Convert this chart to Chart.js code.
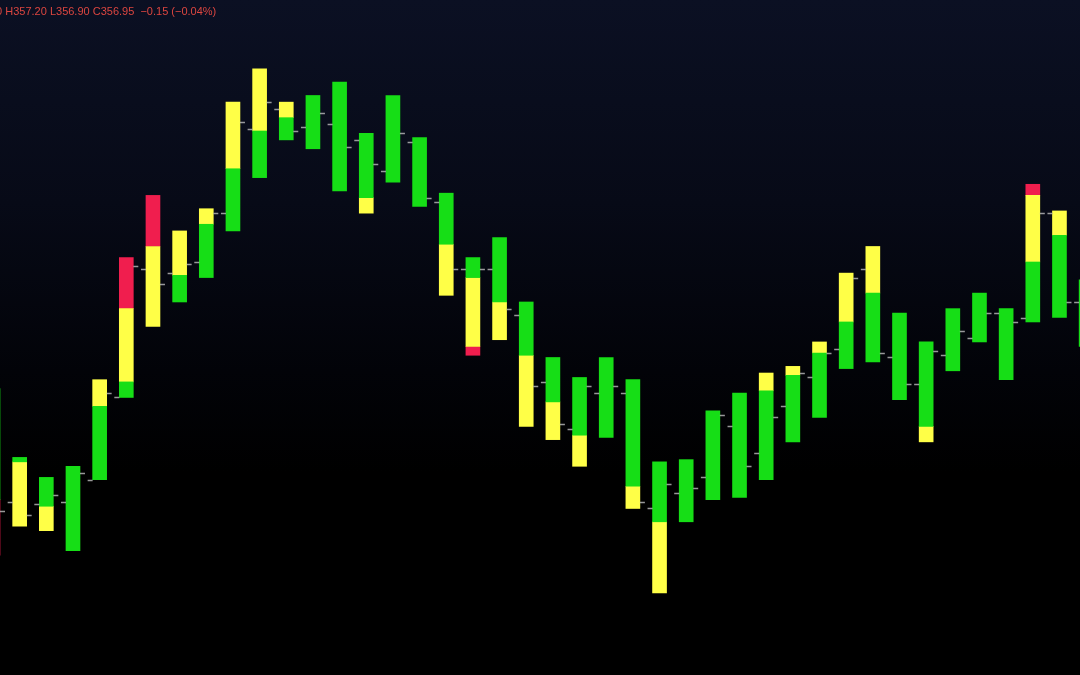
<!DOCTYPE html>
<html>
<head>
<meta charset="utf-8">
<script src="https://cdn.jsdelivr.net/npm/chart.js@4.4.0/dist/chart.umd.min.js"></script>
<style>
	html, body { margin: 0; padding: 0; background: #000; }
	#wrap {
		position: relative;
		width: 1080px;
		height: 675px;
		overflow: hidden;
		background: linear-gradient(to bottom, #0b1023 0%, #070a17 30%, #020308 55%, #000 70%);
	}
	#legend {
		position: absolute;
		top: 5px;
		left: -40px;
		font-family: "Liberation Sans", Arial, sans-serif;
		font-size: 11px;
		color: #dc4640;
		white-space: pre;
	}
</style>
</head>
<body>
<div id="wrap">
	<canvas id="myChart" width="1080" height="675"></canvas>
	<div id="legend"></div>
</div>
<script>
// 봉 시가 / 종가
var opens = [356.50, 356.20, 356.19, 356.20, 356.30, 356.67, 357.25, 357.23, 357.28, 357.50,
	357.88, 357.97, 357.89, 357.90, 357.83, 357.69, 357.82, 357.55, 357.25, 357.25,
	357.04, 356.74, 356.53, 356.69, 356.69, 356.17, 356.24, 356.31, 356.54, 356.42,
	356.63, 356.76, 356.89, 357.25, 356.85, 356.73, 356.86, 356.94, 357.05, 357.03,
	357.50, 357.10];
var closes = [356.16, 356.14, 356.23, 356.33, 356.69, 357.26, 357.18, 357.27, 357.50, 357.91,
	358.00, 357.87, 357.95, 357.80, 357.72, 357.86, 357.57, 357.25, 357.25, 357.07,
	356.72, 356.55, 356.72, 356.72, 356.20, 356.28, 356.26, 356.59, 356.36, 356.58,
	356.78, 356.87, 357.21, 356.87, 356.73, 356.88, 356.97, 357.05, 357.01, 357.50,
	357.10, 356.95];

// 색 구간 [아래, 위]
var redZones = [[355.96, 356.21], null, null, null, null, [357.07, 357.30], [357.35, 357.58], null, null, null,
	null, null, null, null, null, null, null, null, [356.86, 356.90], null,
	null, null, null, null, null, null, null, null, null, null,
	null, null, null, null, null, null, null, null, null, [357.58, 357.63],
	null, null];
var yellowZones = [null, [356.09, 356.38], [356.07, 356.18], null, [356.63, 356.75], [356.74, 357.07], [356.99, 357.35], [357.22, 357.42], [357.45, 357.52], [357.70, 358.00],
	[357.87, 358.15], [357.93, 358.00], null, null, [357.50, 357.57], null, null, [357.13, 357.36], [356.90, 357.21], [356.93, 357.10],
	[356.54, 356.86], [356.48, 356.65], [356.36, 356.50], null, [356.17, 356.27], [355.79, 356.11], null, null, null, [356.70, 356.78],
	[356.77, 356.81], [356.87, 356.92], [357.01, 357.23], [357.14, 357.35], null, [356.47, 356.54], null, null, null, [357.28, 357.58],
	[357.40, 357.51], null];
var greenZones = [[356.21, 356.71], [356.38, 356.40], [356.18, 356.31], [355.98, 356.36], [356.30, 356.63], [356.67, 356.74], null, [357.10, 357.22], [357.21, 357.45], [357.42, 357.70],
	[357.66, 357.87], [357.83, 357.93], [357.79, 358.03], [357.60, 358.09], [357.57, 357.86], [357.64, 358.03], [357.53, 357.84], [357.36, 357.59], [357.21, 357.30], [357.10, 357.39],
	[356.86, 357.10], [356.65, 356.85], [356.50, 356.76], [356.49, 356.85], [356.27, 356.75], [356.11, 356.38], [356.11, 356.39], [356.21, 356.61], [356.22, 356.69], [356.30, 356.70],
	[356.47, 356.77], [356.58, 356.87], [356.80, 357.01], [356.83, 357.14], [356.66, 357.05], [356.54, 356.92], [356.79, 357.07], [356.92, 357.14], [356.75, 357.07], [357.01, 357.28],
	[357.03, 357.40], [356.90, 357.20]];

// 마지막 봉 정보
var last = opens.length - 1;
var lastHigh = 357.20;
var lastLow = 356.90;
var change = closes[last] - closes[last - 1];
var changePct = change / closes[last - 1] * 100;

function fmt(v) {
	return (v < 0 ? '\u2212' : '') + Math.abs(v).toFixed(2);
}
document.getElementById('legend').textContent =
	'O' + opens[last].toFixed(2) + ' H' + lastHigh.toFixed(2) + ' L' + lastLow.toFixed(2)
	+ ' C' + closes[last].toFixed(2) + '  ' + fmt(change) + ' (' + fmt(changePct) + '%)';

function zonePoints(zones) {
	var pts = [];
	for (var i = 0; i < zones.length; i++) {
		if (zones[i]) {
			pts.push({ x : i, y : zones[i] });
		}
	}
	return pts;
}

function zoneDataset(zones, color) {
	return {
		data : zonePoints(zones),
		backgroundColor : color,
		borderWidth : 0,
		barThickness : 14,
		grouped : false
	};
}

// 시가(왼쪽) / 종가(오른쪽) 틱
var ocTicks = {
	id : 'ocTicks',
	afterDatasetsDraw : function(chart) {
		var ctx = chart.ctx;
		var xs = chart.scales.x;
		var ys = chart.scales.y;
		ctx.save();
		ctx.strokeStyle = 'rgba(190, 190, 190, 0.8)';
		ctx.lineWidth = 1.5;
		for (var i = 0; i < opens.length; i++) {
			var cx = xs.getPixelForValue(i);
			var yo = Math.round(ys.getPixelForValue(opens[i])) + 0.5;
			var yc = Math.round(ys.getPixelForValue(closes[i])) + 0.5;
			ctx.beginPath();
			ctx.moveTo(cx - 12, yo);
			ctx.lineTo(cx - 7, yo);
			ctx.moveTo(cx + 7, yc);
			ctx.lineTo(cx + 12, yc);
			ctx.stroke();
		}
		ctx.restore();
	}
};

var myChart = new Chart(document.getElementById('myChart'), {
	type : 'bar',
	data : {
		datasets : [
			zoneDataset(greenZones, '#16de16'),
			zoneDataset(yellowZones, '#ffff47'),
			zoneDataset(redZones, '#f01e4e')
		]
	},
	options : {
		responsive : false,
		animation : false,
		layout : { padding : 0 },
		plugins : {
			legend : { display : false },
			tooltip : { enabled : false }
		},
		scales : {
			x : {
				type : 'linear',
				offset : false,
				min : 0.2625,
				max : 40.77,
				display : false
			},
			y : {
				min : 355.42,
				max : 358.46,
				display : false
			}
		}
	},
	plugins : [ ocTicks ]
});
</script>
</body>
</html>
